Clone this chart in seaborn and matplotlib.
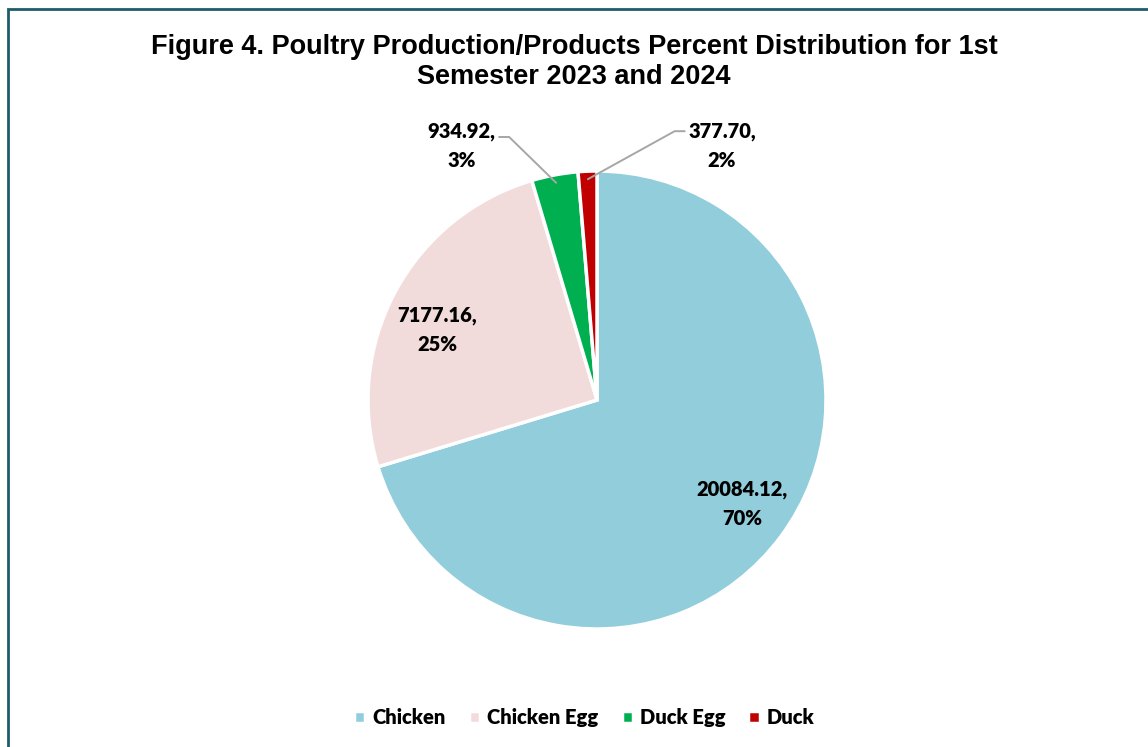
import numpy as np
import pandas as pd
import matplotlib.pyplot as plt
import seaborn as sns
from matplotlib.patches import Rectangle

categories = ['Chicken', 'Chicken Egg', 'Duck Egg', 'Duck']
values = [20084.12, 7177.16, 934.92, 377.70]
pct_labels = ['70%', '25%', '3%', '2%']
colors = ['#92CDDC', '#F2DCDB', '#00B050', '#C00000']

df = pd.DataFrame({'category': categories, 'value': values, 'pct': pct_labels})

sns.set_theme(style='white')
plt.rcParams['font.family'] = ['Lato', 'DejaVu Sans']
plt.rcParams['text.color'] = 'black'

fig = plt.figure(figsize=(11.48, 7.47), dpi=100)
ax = fig.add_axes([368 / 1148, (747 - 629) / 747, 458 / 1148, 458 / 747])

wedges, _ = ax.pie(df['value'], colors=colors, startangle=90, counterclock=False,
                   wedgeprops={'edgecolor': 'white', 'linewidth': 2.5})
ax.set_xlim(-1, 1)
ax.set_ylim(-1, 1)
ax.set_aspect('equal')
ax.axis('off')

# label placement: (radius, angle shift in deg, leader line rise or None)
place = [(0.78, 1, None), (0.76, 4.6, None), (1.256, 17.4, 0.04), (1.236, -28.6, 0.065)]
for w, (_, row), (r, shift, rise) in zip(wedges, df.iterrows(), place):
    mid = np.deg2rad((w.theta1 + w.theta2) / 2)
    txt = f"{row['value']:.2f},\n{row['pct']}"
    tx = r * np.cos(mid + np.deg2rad(shift))
    ty = r * np.sin(mid + np.deg2rad(shift))
    if rise is not None:
        ex, ey = 0.965 * np.cos(mid), 0.965 * np.sin(mid)
        side = -1 if tx < 0 else 1
        ax.plot([ex, tx - side * 0.207, tx - side * 0.163], [ey, ty + rise, ty + rise],
                color='#A6A6A6', lw=1.4, clip_on=False)
    ax.text(tx, ty, txt, ha='center', va='center', fontsize=14.5, fontweight='heavy',
            color='black', linespacing=1.6)

fig.suptitle('Figure 4. Poultry Production/Products Percent Distribution for 1st\nSemester 2023 and 2024',
             x=0.5, y=0.954, fontsize=19.5, fontweight='bold', family='Liberation Sans',
             linespacing=1.17, color='black')

fig.legend(wedges, categories, loc='center', bbox_to_anchor=(0.509, 0.039), ncol=4,
           frameon=False, handlelength=0.55, handleheight=0.55, handletextpad=0.35,
           columnspacing=1.15, labelcolor='black',
           prop={'weight': 'heavy', 'size': 14.5})

fig.add_artist(Rectangle((7.5 / 1148, -0.1), 1.2, (747 - 8.5) / 747 + 0.1,
                         transform=fig.transFigure, fill=False,
                         edgecolor='#1F5C6B', linewidth=2))

fig.savefig('out.png', dpi=100)
